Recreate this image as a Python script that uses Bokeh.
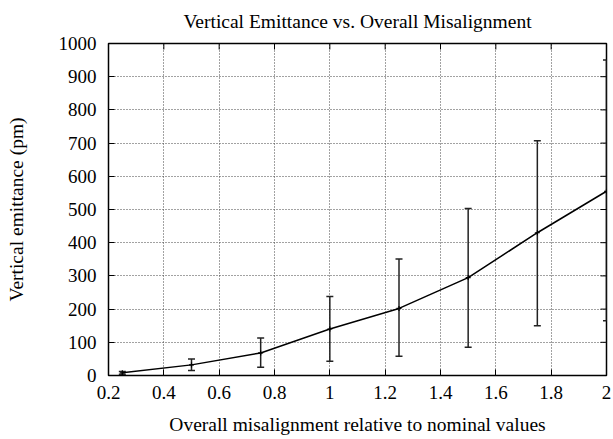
import math
from bokeh.plotting import figure
from bokeh.models import (Range1d, FixedTicker, Whisker, TeeHead,
                          ColumnDataSource, CustomJSTickFormatter)
from bokeh.embed import file_html
from bokeh.resources import INLINE

misalignment = [0.25, 0.5, 0.75, 1.0, 1.25, 1.5, 1.75, 2.0]
emittance = [8, 32, 68, 140, 202, 295, 430, 555]
err_low = [4, 15, 25, 43, 58, 85, 150, 165]
err_high = [12, 50, 113, 238, 351, 503, 707, 950]
x_ticks = [0.2, 0.4, 0.6, 0.8, 1.0, 1.2, 1.4, 1.6, 1.8, 2.0]
y_ticks = [0, 100, 200, 300, 400, 500, 600, 700, 800, 900, 1000]
title_text = "Vertical Emittance vs. Overall Misalignment"

FONT = "Liberation Serif"
FS = "19.5px"
W, H = 613, 439
X_MIN, X_MAX, Y_MIN, Y_MAX = 0.2, 2.0, 0, 1000

p = figure(width=W, height=H, output_backend="svg", toolbar_location=None,
           x_range=Range1d(X_MIN, X_MAX), y_range=Range1d(Y_MIN, Y_MAX),
           min_border_left=108, min_border_right=7, min_border_top=43,
           min_border_bottom=64)

p.title.text = title_text
p.title.align = "center"
p.title.vertical_align = "top"
p.title.text_font = FONT
p.title.text_font_size = FS
p.title.text_font_style = "normal"
p.title.text_color = "black"
p.title.standoff = 20

fmt = CustomJSTickFormatter(code="return tick.toFixed(1).replace(/\\.0$/, '');")

for ax in p.xaxis:
    ax.ticker = FixedTicker(ticks=x_ticks)
    ax.formatter = fmt
    ax.axis_label = "Overall misalignment relative to nominal values"
for ax in p.yaxis:
    ax.ticker = FixedTicker(ticks=y_ticks)
    ax.axis_label = "Vertical emittance (pm)"

for ax in p.xaxis + p.yaxis:
    ax.major_tick_in = 6
    ax.major_tick_out = 0
    ax.minor_tick_in = 0
    ax.minor_tick_out = 0
    ax.axis_line_color = None
    ax.major_tick_line_color = "black"
    ax.major_label_text_font = FONT
    ax.major_label_text_font_size = "19px"
    ax.major_label_text_color = "black"
    ax.axis_label_text_font = FONT
    ax.axis_label_text_font_size = FS
    ax.axis_label_text_font_style = "normal"
    ax.axis_label_text_color = "black"
p.xaxis.major_label_standoff = 10
p.xaxis.axis_label_standoff = 12
p.yaxis.major_label_standoff = 12
p.yaxis.axis_label_standoff = 29

p.xgrid.ticker = FixedTicker(ticks=x_ticks)
p.ygrid.ticker = FixedTicker(ticks=y_ticks)
for g in (p.xgrid, p.ygrid):
    g.grid_line_color = "#444444"
    g.grid_line_dash = "1 2"
    g.grid_line_width = 1

p.outline_line_color = "black"
p.outline_line_width = 1.5
p.background_fill_color = "white"
p.border_fill_color = "white"

# mirrored inward ticks on the top and right frame edges (outer half clipped)
p.scatter(x=x_ticks, y=[Y_MAX] * len(x_ticks), marker="dash", angle=math.pi / 2,
          size=12, line_color="black", line_width=1)
p.scatter(x=[X_MAX] * len(y_ticks), y=y_ticks, marker="dash",
          size=12, line_color="black", line_width=1)

src = ColumnDataSource(dict(x=misalignment, y=emittance, lo=err_low, hi=err_high))

w = Whisker(source=src, base="x", lower="lo", upper="hi",
            line_color="#222222", line_width=1.5,
            upper_head=TeeHead(size=7, line_color="#222222", line_width=1.5),
            lower_head=TeeHead(size=7, line_color="#222222", line_width=1.5))
p.add_layout(w)

p.line("x", "y", source=src, line_color="black", line_width=1.5)
p.scatter("x", "y", source=src, marker="cross", size=5, line_color="black", line_width=1.2)

open("out.html", "w").write(file_html(p, INLINE))
